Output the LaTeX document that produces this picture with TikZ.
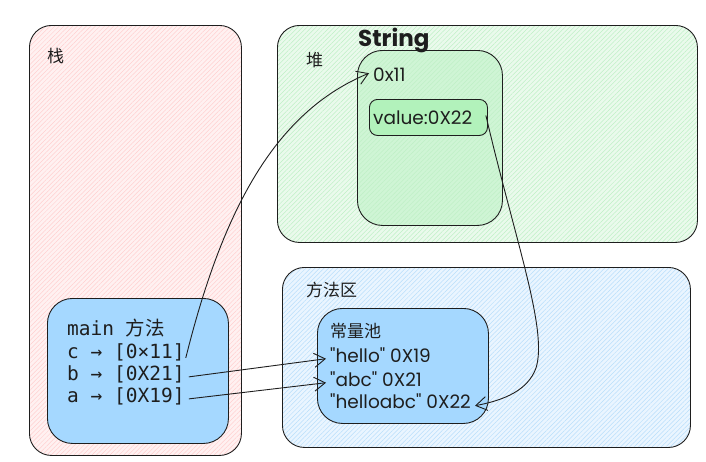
\documentclass[tikz,border=0pt]{standalone}
\usepackage{fontspec}
\setmainfont{Poppins}
\newfontfamily\cjk{Noto Sans CJK SC}
\newfontfamily\mono{DejaVu Sans Mono}
\newfontfamily\hand{Poppins}
\usetikzlibrary{arrows.meta,patterns.meta}
\definecolor{pinkf}{HTML}{FFF1F1}
\definecolor{pinkl}{HTML}{FFD0D0}
\definecolor{greenf}{HTML}{EAFAEC}
\definecolor{greenl}{HTML}{BFF0C6}
\definecolor{greenm}{HTML}{CFF5D5}
\definecolor{bluef}{HTML}{EAF5FF}
\definecolor{bluel}{HTML}{B8DEFB}
\definecolor{bluebox}{HTML}{A5D8FF}
\definecolor{valgreen}{HTML}{B2F2BB}
\definecolor{ink}{HTML}{1E1E1E}
\tikzset{
  box/.style={draw=ink, line width=0.9pt, rounded corners=22pt, inner sep=0pt, anchor=north west},
  hatch/.style 2 args={preaction={fill=#1}, preaction={pattern={Lines[angle=45,distance=3.2pt,line width=0.5pt]}, pattern color=#2}},
  lbl/.style={anchor=base west, inner sep=0pt, text=ink},
  hw/.style={lbl, font=\hand\fontsize{18.5}{20}\selectfont},
  cj/.style={lbl, font=\cjk\fontsize{17}{19}\selectfont},
  mn/.style={lbl, font=\mono\fontsize{19.5}{21}\selectfont},
  conn/.style={draw=ink, line width=0.9pt, -{Straight Barb[length=11pt,width=14pt]}},
}
\begin{document}
\begin{tikzpicture}[x=1pt,y=-1pt]
\useasboundingbox (0,0) rectangle (706,461);
% containers
\node[box, hatch={pinkf}{pinkl}, minimum width=212pt, minimum height=430pt] (stack) at (29,25) {};
\node[box, hatch={greenf}{greenl}, minimum width=420pt, minimum height=217pt] (heap) at (277,25) {};
\node[box, hatch={bluef}{bluel}, minimum width=408pt, minimum height=180pt] (area) at (282,267) {};
% inner boxes
\node[box, rounded corners=25pt, hatch={greenm}{greenl}, minimum width=145pt, minimum height=175pt] (strobj) at (357,50) {};
\node[box, rounded corners=8pt, fill=valgreen, minimum width=118pt, minimum height=36pt] (valbox) at (369,99) {};
\node[box, rounded corners=25pt, fill=bluebox, minimum width=171pt, minimum height=115pt] (pool) at (317,308) {};
\node[box, rounded corners=25pt, fill=bluebox, minimum width=181pt, minimum height=145pt] (mainbox) at (47,298) {};
% labels
\node[cj] (tzhan) at (47,62) {栈};
\node[cj] (tdui) at (306,66) {堆};
\node[lbl, font=\hand\bfseries\fontsize{23}{25}\selectfont] (tstring) at (358,46) {String};
\node[hw] (t11) at (373,81) {0x11};
\node[hw] (tval) at (373,124) {value:0X22};
\node[cj] (tarea) at (306,296) {方法区};
\node[cj] (tpool) at (330,337) {常量池};
\node[hw] (thello) at (330,362) {"hello" 0X19};
\node[hw] (tabc) at (330,386) {"abc" 0X21};
\node[hw] (thabc) at (330,408) {"helloabc" 0X22};
\node[mn] (tmain) at (67,335) {main {\cjk 方法}};
\node[mn] (tc) at (67,358) {c → [0×11]};
\node[mn] (tb) at (67,380) {b → [0X21]};
\node[mn] (ta) at (67,402) {a → [0X19]};
% connectors
\draw[conn] ([xshift=1pt,yshift=-6pt]tc.east) .. controls (225,200) and (280,110) .. ([xshift=-4pt,yshift=1pt]t11.west);
\draw[conn] ([xshift=4pt,yshift=-3pt]tb.east) -- ([xshift=-4pt,yshift=-4pt]thello.west);
\draw[conn] ([xshift=4pt,yshift=-3pt]ta.east) -- ([xshift=-4pt,yshift=-4pt]tabc.west);
\draw[conn] ([xshift=-2pt,yshift=2pt]valbox.east) .. controls (515,240) and (548,330) .. (536,368) .. controls (528,390) and (505,400) .. ([xshift=4pt,yshift=-5pt]thabc.east);
\end{tikzpicture}
\end{document}
